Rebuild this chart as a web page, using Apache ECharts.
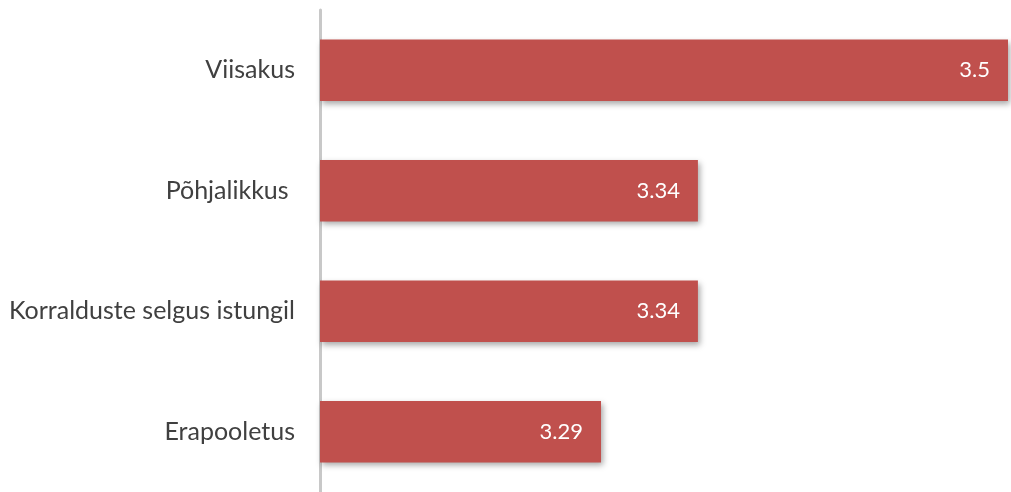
<!DOCTYPE html>
<html>
<head>
<meta charset="utf-8">
<script src="https://cdn.jsdelivr.net/npm/echarts@6/dist/echarts.min.js"></script>
<style>
html,body{margin:0;padding:0;background:#fff;}
#chart{width:1011px;height:492px;}
</style>
</head>
<body>
<div id="chart"></div>
<script>
const categories = ["Viisakus", "Põhjalikkus ", "Korralduste selgus istungil", "Erapooletus"];
const values = [3.5, 3.34, 3.34, 3.29];

const chart = echarts.init(document.getElementById('chart'));
chart.setOption({
  animation: false,
  grid: {left: 320, right: 3, top: 10, bottom: -2, containLabel: false},
  xAxis: {
    type: 'value', min: 3.145, max: 3.5,
    show: false
  },
  yAxis: {
    type: 'category',
    data: categories,
    inverse: true,
    axisLine: {show: true, lineStyle: {color: '#c8c8c8', width: 3}},
    axisTick: {show: false},
    axisLabel: {
      margin: 25,
      color: '#404040',
      fontFamily: 'Lato',
      fontSize: 25,
      padding: [5, 0, 0, 0]
    }
  },
  series: [{
    type: 'bar',
    data: values,
    barWidth: '51%',
    itemStyle: {
      color: '#c0504d',
      shadowColor: 'rgba(0,0,0,0.35)',
      shadowBlur: 6,
      shadowOffsetX: 2,
      shadowOffsetY: 3
    },
    label: {
      show: true,
      position: 'insideRight',
      distance: 18,
      color: '#ffffff',
      fontFamily: 'Lato',
      fontSize: 22,
      padding: [3, 0, 0, 0]
    }
  }]
});
</script>
</body>
</html>
